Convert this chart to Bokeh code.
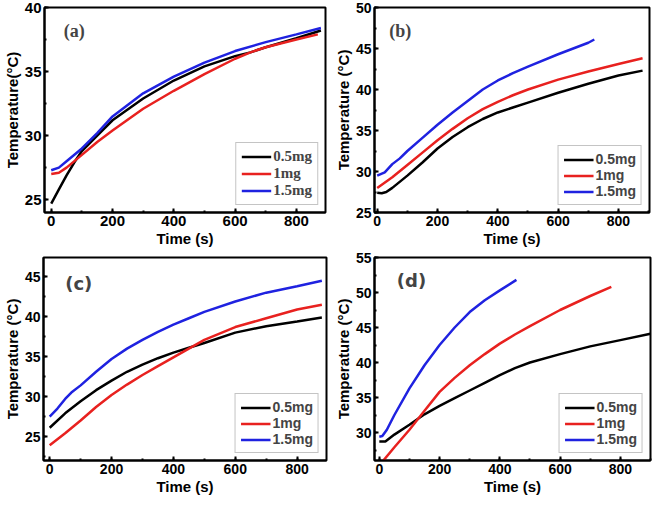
from bokeh.plotting import figure
from bokeh.models import Legend, LegendItem, Label, SingleIntervalTicker, Range1d
from bokeh.layouts import row, column
from bokeh.embed import file_html
from bokeh.resources import INLINE

series_names = ["0.5mg", "1mg", "1.5mg"]
series_colors = ["#000000", "#e8211f", "#1f22e0"]

# Panel (a)
a_t_05 = [0, 25, 50, 75, 100, 150, 200, 300, 400, 500, 600, 650, 700, 800, 880]
a_T_05 = [24.7, 25.8, 26.9, 27.9, 28.8, 30.0, 31.2, 32.9, 34.3, 35.4, 36.2, 36.5, 36.9, 37.6, 38.2]
a_t_1 = [0, 25, 50, 100, 150, 200, 300, 400, 500, 600, 650, 700, 800, 870]
a_T_1 = [27.0, 27.1, 27.5, 28.5, 29.5, 30.4, 32.1, 33.5, 34.8, 36.0, 36.5, 36.9, 37.5, 37.9]
a_t_15 = [0, 25, 50, 100, 150, 200, 300, 400, 500, 600, 700, 800, 880]
a_T_15 = [27.3, 27.5, 28.0, 29.0, 30.2, 31.5, 33.3, 34.6, 35.7, 36.6, 37.3, 37.9, 38.4]

# Panel (b)
b_t_05 = [0, 15, 30, 50, 100, 150, 200, 250, 300, 350, 400, 450, 500, 600, 700, 800, 880]
b_T_05 = [27.4, 27.35, 27.5, 28.0, 29.5, 31.1, 32.8, 34.2, 35.4, 36.4, 37.2, 37.8, 38.4, 39.6, 40.7, 41.7, 42.3]
b_t_1 = [0, 50, 100, 150, 200, 250, 300, 350, 400, 450, 500, 600, 700, 800, 880]
b_T_1 = [28.0, 29.3, 30.8, 32.3, 33.8, 35.2, 36.5, 37.6, 38.5, 39.3, 40.0, 41.2, 42.2, 43.1, 43.8]
b_t_15 = [0, 25, 50, 75, 100, 150, 200, 250, 300, 350, 400, 450, 500, 600, 700, 720]
b_T_15 = [29.5, 29.9, 30.9, 31.6, 32.5, 34.1, 35.7, 37.2, 38.6, 40.0, 41.1, 42.0, 42.8, 44.3, 45.7, 46.1]

# Panel (c)
c_t_05 = [0, 50, 100, 150, 200, 250, 300, 350, 400, 450, 500, 600, 700, 800, 880]
c_T_05 = [26.1, 27.9, 29.4, 30.8, 32.0, 33.1, 34.0, 34.8, 35.5, 36.1, 36.7, 38.0, 38.8, 39.4, 39.9]
c_t_1 = [0, 50, 100, 150, 200, 250, 300, 350, 400, 450, 500, 600, 700, 800, 880]
c_T_1 = [23.9, 25.4, 27.0, 28.7, 30.2, 31.5, 32.7, 33.8, 34.9, 36.0, 37.1, 38.7, 39.8, 40.9, 41.5]
c_t_15 = [0, 25, 50, 70, 100, 150, 200, 250, 300, 350, 400, 450, 500, 600, 700, 800, 880]
c_T_15 = [27.5, 28.5, 29.7, 30.5, 31.4, 33.1, 34.7, 36.0, 37.1, 38.1, 39.0, 39.8, 40.6, 41.9, 43.0, 43.8, 44.5]

# Panel (d)
d_t_05 = [0, 20, 50, 100, 150, 200, 250, 300, 350, 400, 450, 500, 600, 700, 800, 900]
d_T_05 = [28.7, 28.7, 29.7, 31.1, 32.6, 33.8, 34.9, 36.0, 37.1, 38.2, 39.2, 40.0, 41.2, 42.3, 43.2, 44.1]
d_t_1 = [0, 50, 100, 150, 200, 250, 300, 350, 400, 450, 500, 600, 700, 770]
d_T_1 = [25.3, 27.9, 30.4, 33.1, 35.8, 37.8, 39.6, 41.2, 42.7, 44.0, 45.2, 47.5, 49.5, 50.8]
d_t_15 = [0, 10, 25, 50, 100, 150, 200, 250, 300, 350, 400, 455]
d_T_15 = [29.4, 29.5, 30.4, 32.5, 36.3, 39.6, 42.5, 45.0, 47.2, 48.9, 50.3, 51.8]

SANS = "Liberation Sans"
SERIF = "Liberation Serif"


def make_panel(series, xr, yr, ylabel, tag, tag_pos, tag_font, legend_font,
               legend_size, tick_size, size, borders):
    bl, br, bt, bb = borders
    w, h = size
    p = figure(width=w, height=h, output_backend="svg",
               toolbar_location=None, x_range=Range1d(*xr), y_range=Range1d(*yr),
               min_border_left=bl, min_border_right=br, min_border_top=bt,
               min_border_bottom=bb)
    p.background_fill_color = "white"
    p.border_fill_color = "white"
    p.grid.visible = False
    p.outline_line_color = "black"
    p.outline_line_width = 2
    p.outline_line_alpha = 1
    p.xaxis.ticker = SingleIntervalTicker(interval=200, num_minor_ticks=2)
    p.yaxis.ticker = SingleIntervalTicker(interval=5, num_minor_ticks=2)
    for ax in (p.xaxis[0], p.yaxis[0]):
        ax.axis_line_width = 2
        ax.axis_line_color = "black"
        ax.major_tick_in = 4
        ax.major_tick_out = 0
        ax.minor_tick_in = 2
        ax.minor_tick_out = 0
        ax.major_tick_line_width = 2
        ax.minor_tick_line_width = 2
        ax.major_label_text_font = SANS
        ax.major_label_text_font_style = "bold"
        ax.major_label_text_font_size = tick_size
        ax.major_label_text_color = "black"
        ax.axis_label_text_font = SANS
        ax.axis_label_text_font_style = "bold"
        ax.axis_label_text_font_size = "15px"
        ax.axis_label_text_color = "black"
        ax.major_label_standoff = 3
        ax.axis_label_standoff = 1
    p.xaxis.axis_label = "Time (s)"
    p.yaxis.axis_label = ylabel

    items = []
    for (t, T), name, col in zip(series, series_names, series_colors):
        r = p.line(t, T, line_color=col, line_width=2.5)
        items.append(LegendItem(label=name, renderers=[r]))
    leg = Legend(items=items, location="bottom_right")
    leg.margin = 7
    leg.padding = 5
    leg.spacing = 0
    leg.label_height = 15
    leg.glyph_height = 15
    leg.glyph_width = 30
    leg.label_standoff = 2
    leg.border_line_color = "#8a8a8a"
    leg.border_line_width = 1
    leg.label_text_font = legend_font
    leg.label_text_font_style = "bold"
    leg.label_text_font_size = legend_size
    leg.background_fill_alpha = 1
    p.add_layout(leg)

    p.add_layout(Label(x=tag_pos[0], y=tag_pos[1], text=tag, text_font=tag_font,
                       text_font_style="bold", text_font_size="18px",
                       text_baseline="middle", text_align="left"))
    return p


pa = make_panel([(a_t_05, a_T_05), (a_t_1, a_T_1), (a_t_15, a_T_15)],
                (-22, 895), (24, 40), "Temperature(\u00b0C)", "(a)", (41, 38.15),
                SERIF, SERIF, "15px", "15px", (330, 249), (40, 5, 7, 37))
pb = make_panel([(b_t_05, b_T_05), (b_t_1, b_T_1), (b_t_15, b_T_15)],
                (-9, 903), (25, 50), "Temperature (\u00b0C)", "(b)", (40, 47.1),
                SERIF, SANS, "14px", "14px", (323, 249), (44, 4, 7, 37))
pc = make_panel([(c_t_05, c_T_05), (c_t_1, c_T_1), (c_t_15, c_T_15)],
                (-20, 895), (22, 47.4), "Temperature (\u00b0C)", "(c)", (50, 44.2),
                "DejaVu Sans", SANS, "14px", "14px", (330, 248), (38, 4, 5, 37))
pd_ = make_panel([(d_t_05, d_T_05), (d_t_1, d_T_1), (d_t_15, d_T_15)],
                 (-16, 900), (26, 55), "Temperature (\u00b0C)", "(d)", (58, 51.75),
                 "DejaVu Sans", SANS, "14px", "14px", (323, 248), (44, 3, 8, 37))

layout = column(row(pa, pb), row(pc, pd_))
open("out.html", "w").write(file_html(layout, INLINE))
